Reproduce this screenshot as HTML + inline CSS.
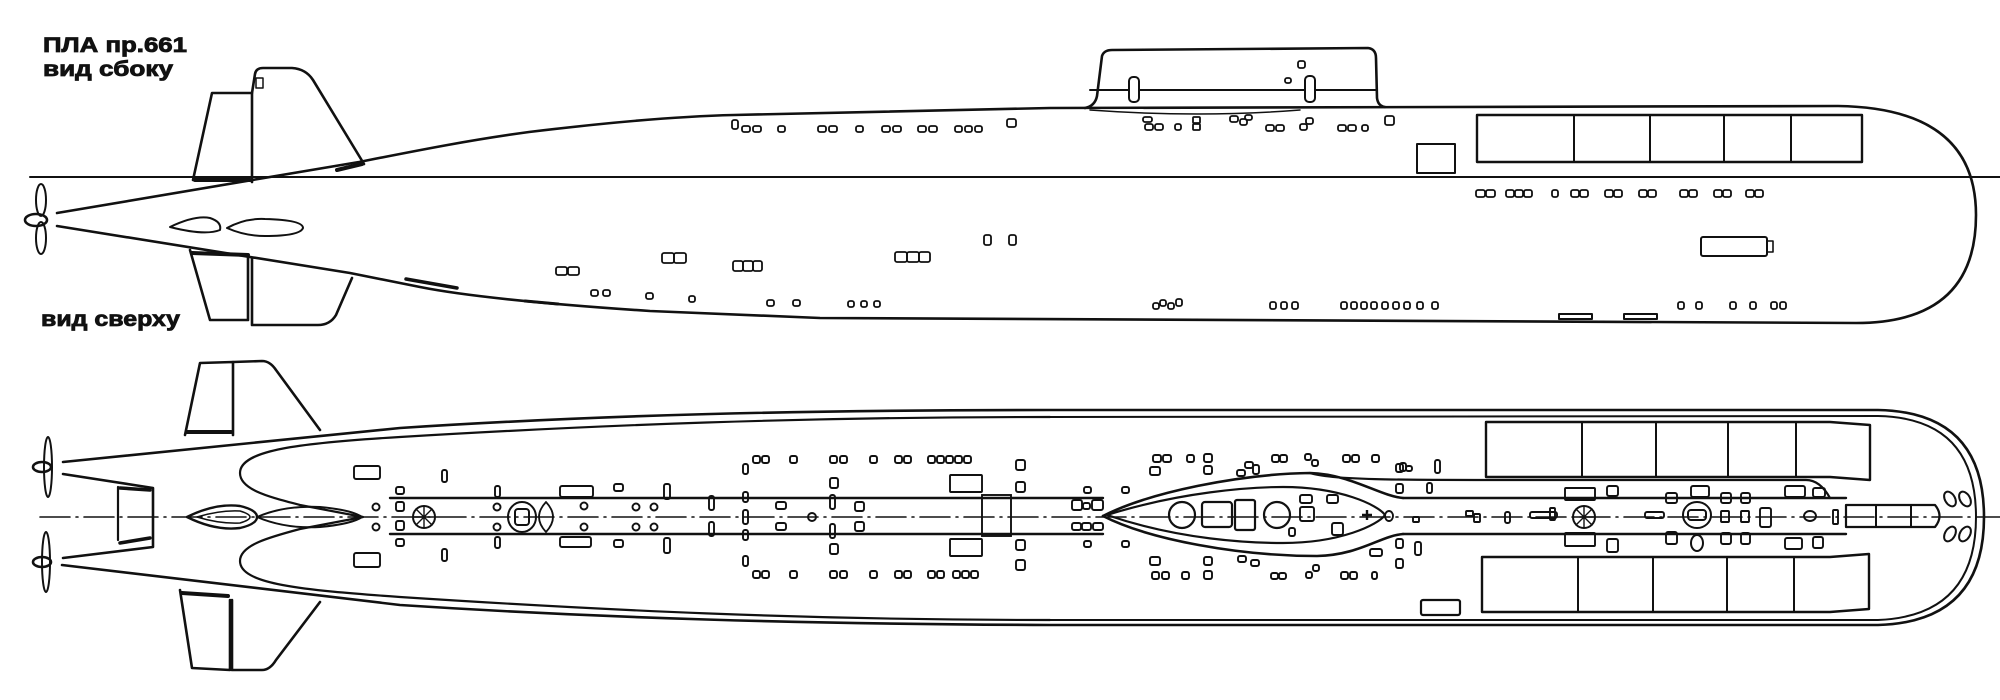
<!DOCTYPE html>
<html><head><meta charset="utf-8"><style>
html,body{margin:0;padding:0;background:#fff;}
svg{display:block;}
text{font-family:"Liberation Sans",sans-serif;font-weight:bold;fill:#111;stroke:#111;stroke-width:0.8;}
</style></head><body>
<svg width="2000" height="700" viewBox="0 0 2000 700" xmlns="http://www.w3.org/2000/svg">
<g fill="none" stroke="#111" stroke-width="2.6" stroke-linejoin="round" stroke-linecap="round">
<!-- ===== SIDE VIEW ===== -->
<line x1="30" y1="177" x2="2000" y2="177" stroke-width="2"/>
<path d="M57,213 L359,162 C420,150 470,140 529,132 C620,121 690,116 734,115 L1050,108 L1838,106 Q1976,108 1976,215 Q1976,323 1856,323 L820,318 L650,311 C560,305 470,297 420,287 C390,281 370,277 350,273 L57,226"/>
<!-- sail -->
<path d="M1085,108 Q1095,106 1097,96 L1102,56 Q1104,50 1112,50 L1368,48 Q1376,49 1376,58 L1377,98 Q1378,106 1385,107"/>
<line x1="1090" y1="90" x2="1377" y2="90" stroke-width="2"/>
<rect x="1129" y="77" width="10" height="25" rx="4" fill="#fff" stroke-width="2"/>
<rect x="1305" y="76" width="10" height="26" rx="4" fill="#fff" stroke-width="2"/>
<path d="M1090,110 Q1200,118 1300,110" stroke-width="1.5"/>
<!-- upper rudder -->
<path d="M193,180 L212,93 L252,93 L252,182"/>
<path d="M252,93 L255,74 Q256,68 263,68 L292,68 Q306,69 313,80 L364,164"/>
<line x1="195" y1="180" x2="250" y2="180" stroke-width="4"/>
<rect x="256" y="78" width="7" height="10" stroke-width="1.5"/>
<line x1="337" y1="170" x2="362" y2="164" stroke-width="4"/>
<!-- lower rudder -->
<path d="M190,250 L210,320 L248,320 L248,258"/>
<path d="M252,258 L252,325 L318,325 Q330,325 336,315 L352,278"/>
<line x1="192" y1="253" x2="248" y2="255" stroke-width="4"/>
<!-- propeller -->
<ellipse cx="36" cy="220" rx="11" ry="6"/>
<ellipse cx="41" cy="200" rx="5" ry="16" stroke-width="2"/>
<ellipse cx="41" cy="238" rx="5" ry="16" stroke-width="2"/>
<!-- ovals -->
<path d="M170,227 Q195,215 210,218 Q222,222 220,230 Q205,236 170,227 Z" stroke-width="2"/>
<path d="M227,228 Q245,218 265,219 Q303,220 303,228 Q300,236 265,236 Q245,236 227,228 Z" stroke-width="2"/>
<!-- side dashes -->
<line x1="406" y1="279" x2="457" y2="288" stroke-width="3.5"/>
<line x1="525" y1="301" x2="558" y2="304" stroke-width="3"/>
<!-- launchers side -->
<rect x="1477" y="115" width="385" height="47" stroke-width="2.4"/>
<line x1="1574" y1="115" x2="1574" y2="162" stroke-width="2"/>
<line x1="1650" y1="115" x2="1650" y2="162" stroke-width="2"/>
<line x1="1724" y1="115" x2="1724" y2="162" stroke-width="2"/>
<line x1="1791" y1="115" x2="1791" y2="162" stroke-width="2"/>
<rect x="1417" y="144" width="38" height="29" stroke-width="2"/>
<rect x="1701" y="237" width="66" height="19" rx="2" stroke-width="2"/>
<rect x="1767" y="241" width="6" height="11" stroke-width="1.6"/>
<rect x="1559" y="314" width="33" height="5" stroke-width="2"/>
<rect x="1624" y="314" width="33" height="5" stroke-width="2"/>
</g>

<!-- small portholes side view -->
<g fill="none" stroke="#111" stroke-width="1.8">
<rect x="732" y="120" width="6" height="9" rx="2"/>
<g>
<rect x="742" y="126" width="8" height="6" rx="2"/><rect x="753" y="126" width="8" height="6" rx="2"/>
<rect x="778" y="126" width="7" height="6" rx="2"/>
<rect x="818" y="126" width="8" height="6" rx="2"/><rect x="829" y="126" width="8" height="6" rx="2"/>
<rect x="856" y="126" width="7" height="6" rx="2"/>
<rect x="882" y="126" width="8" height="6" rx="2"/><rect x="893" y="126" width="8" height="6" rx="2"/>
<rect x="918" y="126" width="8" height="6" rx="2"/><rect x="929" y="126" width="8" height="6" rx="2"/>
<rect x="955" y="126" width="7" height="6" rx="2"/><rect x="965" y="126" width="7" height="6" rx="2"/><rect x="975" y="126" width="7" height="6" rx="2"/>
<rect x="1007" y="119" width="9" height="8" rx="2"/>
</g>
<g>
<rect x="1143" y="117" width="9" height="5" rx="2"/><rect x="1145" y="124" width="8" height="6" rx="2"/><rect x="1155" y="124" width="8" height="6" rx="2"/>
<rect x="1175" y="124" width="6" height="6" rx="2"/>
<rect x="1193" y="117" width="7" height="6" rx="1"/><rect x="1193" y="124" width="7" height="6" rx="1"/>
<rect x="1230" y="116" width="8" height="6" rx="2"/><rect x="1240" y="119" width="7" height="6" rx="2"/><rect x="1245" y="115" width="7" height="5" rx="2"/>
<rect x="1266" y="125" width="8" height="6" rx="2"/><rect x="1276" y="125" width="8" height="6" rx="2"/>
<rect x="1300" y="124" width="7" height="6" rx="2"/><rect x="1306" y="118" width="7" height="6" rx="2"/>
<rect x="1338" y="125" width="8" height="6" rx="2"/><rect x="1348" y="125" width="8" height="6" rx="2"/><rect x="1362" y="125" width="6" height="6" rx="2"/>
<rect x="1385" y="116" width="9" height="9" rx="2"/>
<rect x="1298" y="61" width="7" height="7" rx="2"/>
<rect x="1285" y="78" width="6" height="5" rx="2"/>
</g>
<g>
<rect x="1476" y="190" width="9" height="7" rx="2"/><rect x="1486" y="190" width="9" height="7" rx="2"/>
<rect x="1506" y="190" width="8" height="7" rx="2"/><rect x="1515" y="190" width="8" height="7" rx="2"/><rect x="1524" y="190" width="8" height="7" rx="2"/>
<rect x="1552" y="190" width="6" height="7" rx="2"/>
<rect x="1571" y="190" width="8" height="7" rx="2"/><rect x="1580" y="190" width="8" height="7" rx="2"/>
<rect x="1605" y="190" width="8" height="7" rx="2"/><rect x="1614" y="190" width="8" height="7" rx="2"/>
<rect x="1639" y="190" width="8" height="7" rx="2"/><rect x="1648" y="190" width="8" height="7" rx="2"/>
<rect x="1680" y="190" width="8" height="7" rx="2"/><rect x="1689" y="190" width="8" height="7" rx="2"/>
<rect x="1714" y="190" width="8" height="7" rx="2"/><rect x="1723" y="190" width="8" height="7" rx="2"/>
<rect x="1746" y="190" width="8" height="7" rx="2"/><rect x="1755" y="190" width="8" height="7" rx="2"/>
</g>
<g>
<rect x="556" y="267" width="11" height="8" rx="2"/><rect x="568" y="267" width="11" height="8" rx="2"/>
<rect x="662" y="253" width="12" height="10" rx="2"/><rect x="674" y="253" width="12" height="10" rx="2"/>
<rect x="733" y="261" width="10" height="10" rx="2"/><rect x="743" y="261" width="10" height="10" rx="2"/><rect x="753" y="261" width="9" height="10" rx="2"/>
<rect x="895" y="252" width="12" height="10" rx="2"/><rect x="907" y="252" width="12" height="10" rx="2"/><rect x="919" y="252" width="11" height="10" rx="2"/>
<rect x="984" y="235" width="7" height="10" rx="2"/><rect x="1009" y="235" width="7" height="10" rx="2"/>
<rect x="591" y="290" width="7" height="6" rx="2"/><rect x="603" y="290" width="7" height="6" rx="2"/>
<rect x="646" y="293" width="7" height="6" rx="2"/>
<rect x="689" y="296" width="6" height="6" rx="2"/>
<rect x="767" y="300" width="7" height="6" rx="2"/><rect x="793" y="300" width="7" height="6" rx="2"/>
<rect x="848" y="301" width="6" height="6" rx="2"/><rect x="861" y="301" width="6" height="6" rx="2"/><rect x="874" y="301" width="6" height="6" rx="2"/>
</g>
<g>
<rect x="1153" y="303" width="6" height="6" rx="2"/><rect x="1160" y="300" width="6" height="6" rx="2"/><rect x="1168" y="303" width="6" height="6" rx="2"/><rect x="1176" y="299" width="6" height="7" rx="2"/>
<rect x="1270" y="302" width="6" height="7" rx="2"/><rect x="1281" y="302" width="6" height="7" rx="2"/><rect x="1292" y="302" width="6" height="7" rx="2"/>
<rect x="1341" y="302" width="6" height="7" rx="2"/><rect x="1351" y="302" width="6" height="7" rx="2"/><rect x="1361" y="302" width="6" height="7" rx="2"/><rect x="1371" y="302" width="6" height="7" rx="2"/><rect x="1382" y="302" width="6" height="7" rx="2"/><rect x="1393" y="302" width="6" height="7" rx="2"/><rect x="1404" y="302" width="6" height="7" rx="2"/><rect x="1417" y="302" width="6" height="7" rx="2"/><rect x="1432" y="302" width="6" height="7" rx="2"/>
<rect x="1678" y="302" width="6" height="7" rx="2"/><rect x="1696" y="302" width="6" height="7" rx="2"/>
<rect x="1730" y="302" width="6" height="7" rx="2"/><rect x="1750" y="302" width="6" height="7" rx="2"/>
<rect x="1771" y="302" width="6" height="7" rx="2"/><rect x="1780" y="302" width="6" height="7" rx="2"/>
</g>
</g>

<!-- ===== TOP VIEW ===== -->
<g fill="none" stroke="#111" stroke-width="2.6" stroke-linejoin="round" stroke-linecap="round">
<line x1="40" y1="517" x2="2000" y2="517" stroke-width="1.6" stroke-dasharray="30 6 2 6"/>
<path d="M63,462 L400,428 C600,415 800,410 1050,410 L1878,410 Q1984,412 1984,517 Q1984,622 1878,625 L1050,625 C800,624 600,618 400,605 L62,565"/>
<path d="M1050,417 L1878,416 Q1976,418 1976,517 Q1976,616 1878,620 L1050,620" stroke-width="2"/>
<path d="M1050,417 C800,417 600,425 400,437 C300,443 240,450 240,473 C240,490 270,497 300,505 L363,517 L300,529 C270,537 240,545 240,561 C240,584 300,590 400,597 C600,610 800,620 1050,620" stroke-width="2.2"/>
<!-- stern V -->
<path d="M63,474 L153,488 L153,547 L63,558"/>
<line x1="118" y1="487" x2="118" y2="540" stroke-width="2.2"/>
<line x1="120" y1="488" x2="150" y2="490" stroke-width="3.5"/>
<line x1="120" y1="543" x2="150" y2="538" stroke-width="3.5"/>
<!-- props -->
<ellipse cx="42" cy="467" rx="9" ry="5"/>
<ellipse cx="48" cy="467" rx="4" ry="30" stroke-width="2"/>
<ellipse cx="42" cy="562" rx="9" ry="5"/>
<ellipse cx="46" cy="562" rx="4" ry="30" stroke-width="2"/>
<!-- fins -->
<path d="M185,435 L200,363 L233,362 L233,435"/>
<path d="M233,362 L262,361 Q270,361 276,370 L320,430"/>
<line x1="187" y1="432" x2="231" y2="432" stroke-width="4"/>
<path d="M180,590 L192,668 L230,670 L230,600"/>
<path d="M232,600 L232,670 L262,670 Q270,670 276,660 L320,602"/>
<line x1="182" y1="593" x2="228" y2="596" stroke-width="4"/>
<!-- centre teardrops -->
<path d="M187,517 Q215,503 240,506 Q257,510 257,517 Q257,524 240,528 Q215,531 187,517 Z" stroke-width="2.4"/>
<path d="M197,517 Q220,510 240,511 Q250,514 250,517 Q250,520 240,523 Q220,524 197,517 Z" stroke-width="1.6"/>
<path d="M257,517 Q285,505 320,507 Q352,510 362,517 Q352,524 320,527 Q285,529 257,517 Z" stroke-width="2"/>
<!-- strip lines -->
<line x1="390" y1="498" x2="1103" y2="498" stroke-width="2.4"/>
<line x1="390" y1="534" x2="1103" y2="534" stroke-width="2.4"/>
<line x1="1403" y1="498" x2="1846" y2="498" stroke-width="2.4"/>
<line x1="1403" y1="534" x2="1846" y2="534" stroke-width="2.4"/>
<!-- lens -->
<path d="M1103,516 C1150,492 1240,474 1310,473 C1350,474 1380,496 1403,498"/>
<path d="M1103,516 C1150,540 1240,556 1317,556 C1360,555 1380,536 1403,534"/>
<path d="M1310,473 C1330,480 1400,480 1500,480 L1806,480 Q1820,480 1830,498" stroke-width="2.2"/>
<path d="M1107,515 C1180,492 1250,487 1283,487 C1340,487 1378,505 1385,515 C1378,525 1340,543 1283,543 C1250,543 1180,540 1107,515 Z" stroke-width="2.2"/>
<circle cx="1182" cy="515" r="13" stroke-width="2.2"/>
<rect x="1202" y="502" width="30" height="25" rx="3" stroke-width="2.2"/>
<rect x="1235" y="500" width="20" height="30" rx="2" stroke-width="2.2"/>
<circle cx="1277" cy="515" r="13" stroke-width="2.2"/>
<!-- launchers top -->
<path d="M1486,422 L1830,422 L1870,425 L1870,480 L1830,477 L1486,477 Z" stroke-width="2.4"/>
<line x1="1582" y1="422" x2="1582" y2="477" stroke-width="2"/>
<line x1="1656" y1="422" x2="1656" y2="477" stroke-width="2"/>
<line x1="1728" y1="422" x2="1728" y2="477" stroke-width="2"/>
<line x1="1796" y1="422" x2="1796" y2="477" stroke-width="2"/>
<path d="M1482,557 L1830,557 L1869,554 L1869,609 L1830,612 L1482,612 Z" stroke-width="2.4"/>
<line x1="1578" y1="557" x2="1578" y2="612" stroke-width="2"/>
<line x1="1653" y1="557" x2="1653" y2="612" stroke-width="2"/>
<line x1="1727" y1="557" x2="1727" y2="612" stroke-width="2"/>
<line x1="1794" y1="557" x2="1794" y2="612" stroke-width="2"/>
<!-- bow tubes -->
<path d="M1846,505 L1935,505 Q1944,516 1935,527 L1846,527 Z" stroke-width="2.2"/>
<line x1="1876" y1="505" x2="1876" y2="527" stroke-width="2"/>
<line x1="1911" y1="505" x2="1911" y2="527" stroke-width="2"/>
<ellipse cx="1950" cy="499" rx="5" ry="8" transform="rotate(-30 1950 499)" stroke-width="2"/>
<ellipse cx="1965" cy="499" rx="5" ry="8" transform="rotate(-30 1965 499)" stroke-width="2"/>
<ellipse cx="1950" cy="534" rx="5" ry="8" transform="rotate(30 1950 534)" stroke-width="2"/>
<ellipse cx="1965" cy="534" rx="5" ry="8" transform="rotate(30 1965 534)" stroke-width="2"/>
<rect x="1421" y="600" width="39" height="15" rx="2" stroke-width="2.2"/>
<!-- wheels -->
<circle cx="424" cy="517" r="11" stroke-width="2"/>
<path d="M424,506 V528 M413,517 H435 M416,509 L432,525 M432,509 L416,525" stroke-width="1.4"/>
<circle cx="1584" cy="517" r="11" stroke-width="2"/>
<path d="M1584,506 V528 M1573,517 H1595 M1576,509 L1592,525 M1592,509 L1576,525" stroke-width="1.4"/>
<ellipse cx="522" cy="517" rx="14" ry="15" stroke-width="2"/>
<rect x="515" y="509" width="14" height="16" rx="3" stroke-width="2"/>
<path d="M546,502 Q560,517 546,532 Q532,517 546,502 Z" stroke-width="1.8"/>
<ellipse cx="1697" cy="515" rx="14" ry="13" stroke-width="2"/>
<rect x="1688" y="510" width="18" height="10" rx="3" stroke-width="2"/>
<ellipse cx="1697" cy="543" rx="6" ry="8" stroke-width="2"/>
</g>

<!-- top view small items -->
<g fill="none" stroke="#111" stroke-width="1.9">
<rect x="354" y="466" width="26" height="13" rx="2"/><rect x="354" y="553" width="26" height="14" rx="2"/>
<rect x="560" y="486" width="33" height="11" rx="2"/><rect x="560" y="537" width="31" height="10" rx="2"/>
<rect x="950" y="475" width="32" height="17" rx="1"/><rect x="950" y="539" width="32" height="17" rx="1"/>
<rect x="982" y="495" width="29" height="41"/>
<circle cx="376" cy="507" r="3.5"/><circle cx="376" cy="527" r="3.5"/>
<circle cx="497" cy="507" r="3.5"/><circle cx="497" cy="527" r="3.5"/>
<circle cx="584" cy="506" r="3.5"/><circle cx="584" cy="527" r="3.5"/>
<circle cx="636" cy="507" r="3.5"/><circle cx="654" cy="507" r="3.5"/><circle cx="636" cy="527" r="3.5"/><circle cx="654" cy="527" r="3.5"/>
<circle cx="812" cy="517" r="4"/>
<rect x="442" y="470" width="5" height="12" rx="2"/><rect x="442" y="549" width="5" height="12" rx="2"/>
<rect x="495" y="486" width="5" height="11" rx="2"/><rect x="495" y="537" width="5" height="11" rx="2"/>
<rect x="664" y="484" width="6" height="15" rx="2"/><rect x="664" y="538" width="6" height="15" rx="2"/>
<rect x="709" y="496" width="5" height="14" rx="2"/><rect x="709" y="522" width="5" height="14" rx="2"/>
<rect x="743" y="492" width="5" height="10" rx="2"/><rect x="743" y="510" width="5" height="14" rx="2"/><rect x="743" y="530" width="5" height="10" rx="2"/>
<rect x="830" y="495" width="5" height="14" rx="2"/><rect x="830" y="524" width="5" height="14" rx="2"/>
<rect x="396" y="487" width="8" height="7" rx="2"/><rect x="396" y="502" width="8" height="9" rx="2"/><rect x="396" y="521" width="8" height="9" rx="2"/><rect x="396" y="539" width="8" height="7" rx="2"/>
<rect x="776" y="502" width="10" height="7" rx="2"/><rect x="776" y="523" width="10" height="7" rx="2"/>
<rect x="855" y="502" width="9" height="9" rx="2"/><rect x="855" y="522" width="9" height="9" rx="2"/>
<rect x="614" y="484" width="9" height="7" rx="2"/><rect x="614" y="540" width="9" height="7" rx="2"/>
<rect x="743" y="464" width="5" height="10" rx="2"/><rect x="743" y="556" width="5" height="10" rx="2"/>
<rect x="830" y="478" width="8" height="10" rx="2"/><rect x="830" y="544" width="8" height="10" rx="2"/>
<rect x="1016" y="460" width="9" height="10" rx="2"/><rect x="1016" y="482" width="9" height="10" rx="2"/><rect x="1016" y="540" width="9" height="10" rx="2"/><rect x="1016" y="560" width="9" height="10" rx="2"/>
<!-- rows -->
<rect x="753" y="456" width="7" height="7" rx="2"/><rect x="762" y="456" width="7" height="7" rx="2"/><rect x="790" y="456" width="7" height="7" rx="2"/>
<rect x="830" y="456" width="7" height="7" rx="2"/><rect x="840" y="456" width="7" height="7" rx="2"/><rect x="870" y="456" width="7" height="7" rx="2"/>
<rect x="895" y="456" width="7" height="7" rx="2"/><rect x="904" y="456" width="7" height="7" rx="2"/>
<rect x="928" y="456" width="7" height="7" rx="2"/><rect x="937" y="456" width="7" height="7" rx="2"/><rect x="946" y="456" width="7" height="7" rx="2"/><rect x="955" y="456" width="7" height="7" rx="2"/><rect x="964" y="456" width="7" height="7" rx="2"/>
<rect x="753" y="571" width="7" height="7" rx="2"/><rect x="762" y="571" width="7" height="7" rx="2"/><rect x="790" y="571" width="7" height="7" rx="2"/>
<rect x="830" y="571" width="7" height="7" rx="2"/><rect x="840" y="571" width="7" height="7" rx="2"/><rect x="870" y="571" width="7" height="7" rx="2"/>
<rect x="895" y="571" width="7" height="7" rx="2"/><rect x="904" y="571" width="7" height="7" rx="2"/>
<rect x="928" y="571" width="7" height="7" rx="2"/><rect x="937" y="571" width="7" height="7" rx="2"/>
<rect x="953" y="571" width="7" height="7" rx="2"/><rect x="962" y="571" width="7" height="7" rx="2"/><rect x="971" y="571" width="7" height="7" rx="2"/>
<!-- mid section -->
<rect x="1153" y="455" width="8" height="7" rx="2"/><rect x="1163" y="455" width="8" height="7" rx="2"/><rect x="1187" y="455" width="7" height="7" rx="2"/><rect x="1204" y="454" width="8" height="8" rx="2"/>
<rect x="1150" y="467" width="10" height="8" rx="2"/><rect x="1204" y="466" width="8" height="8" rx="2"/>
<rect x="1237" y="470" width="8" height="6" rx="2"/><rect x="1245" y="462" width="8" height="6" rx="2"/><rect x="1253" y="465" width="6" height="9" rx="2"/>
<rect x="1272" y="455" width="7" height="7" rx="2"/><rect x="1280" y="455" width="7" height="7" rx="2"/>
<rect x="1305" y="454" width="6" height="6" rx="2"/><rect x="1312" y="460" width="6" height="6" rx="2"/>
<rect x="1343" y="455" width="7" height="7" rx="2"/><rect x="1352" y="455" width="7" height="7" rx="2"/><rect x="1372" y="455" width="7" height="7" rx="2"/>
<rect x="1152" y="572" width="7" height="7" rx="2"/><rect x="1162" y="572" width="7" height="7" rx="2"/><rect x="1182" y="572" width="7" height="7" rx="2"/><rect x="1204" y="571" width="8" height="8" rx="2"/>
<rect x="1150" y="557" width="10" height="8" rx="2"/><rect x="1204" y="557" width="8" height="8" rx="2"/>
<rect x="1238" y="556" width="8" height="6" rx="2"/><rect x="1251" y="560" width="8" height="6" rx="2"/>
<rect x="1271" y="573" width="7" height="6" rx="2"/><rect x="1279" y="573" width="7" height="6" rx="2"/>
<rect x="1306" y="572" width="6" height="6" rx="2"/><rect x="1313" y="565" width="6" height="6" rx="2"/>
<rect x="1341" y="572" width="7" height="7" rx="2"/><rect x="1350" y="572" width="7" height="7" rx="2"/><rect x="1372" y="572" width="5" height="7" rx="2"/>
<rect x="1072" y="500" width="10" height="10" rx="2"/><rect x="1083" y="503" width="7" height="6" rx="2"/><rect x="1092" y="500" width="11" height="10" rx="2"/>
<rect x="1072" y="523" width="9" height="7" rx="2"/><rect x="1082" y="523" width="9" height="7" rx="2"/><rect x="1093" y="523" width="10" height="7" rx="2"/>
<rect x="1084" y="487" width="7" height="6" rx="2"/><rect x="1084" y="541" width="7" height="6" rx="2"/>
<rect x="1122" y="487" width="7" height="6" rx="2"/><rect x="1122" y="541" width="7" height="6" rx="2"/>
<rect x="1300" y="495" width="12" height="8" rx="2"/><rect x="1327" y="495" width="11" height="8" rx="2"/>
<rect x="1300" y="507" width="14" height="14" rx="2"/><rect x="1332" y="523" width="11" height="12" rx="2"/><rect x="1289" y="528" width="6" height="8" rx="2"/>
<path d="M1362,515 H1372 M1367,510 V520" stroke-width="2.4"/>
<ellipse cx="1389" cy="516" rx="4" ry="5"/>
<rect x="1396" y="464" width="7" height="8" rx="2"/><rect x="1396" y="484" width="7" height="9" rx="2"/><rect x="1396" y="539" width="7" height="9" rx="2"/><rect x="1396" y="559" width="7" height="9" rx="2"/>
<rect x="1370" y="549" width="12" height="7" rx="2"/><rect x="1415" y="542" width="6" height="13" rx="2"/>
<rect x="1435" y="460" width="5" height="13" rx="2"/><rect x="1427" y="483" width="5" height="10" rx="2"/>
<rect x="1400" y="463" width="6" height="8" rx="2"/><rect x="1406" y="466" width="6" height="5" rx="2"/>
<rect x="1413" y="517" width="6" height="5" rx="1"/><rect x="1466" y="511" width="7" height="5" rx="1"/><rect x="1474" y="514" width="6" height="8" rx="1"/>
<!-- bow area -->
<rect x="1565" y="488" width="30" height="12" rx="1"/><rect x="1565" y="533" width="30" height="13" rx="1"/>
<rect x="1607" y="486" width="11" height="10" rx="2"/><rect x="1607" y="539" width="11" height="13" rx="2"/>
<rect x="1666" y="493" width="11" height="10" rx="2"/><rect x="1666" y="532" width="11" height="12" rx="2"/>
<rect x="1691" y="486" width="18" height="11" rx="2"/>
<rect x="1721" y="493" width="10" height="10" rx="2"/><rect x="1721" y="533" width="10" height="11" rx="2"/>
<rect x="1741" y="493" width="9" height="10" rx="2"/><rect x="1741" y="533" width="9" height="11" rx="2"/>
<rect x="1785" y="486" width="20" height="11" rx="2"/><rect x="1785" y="538" width="17" height="11" rx="2"/>
<rect x="1813" y="488" width="12" height="9" rx="2"/><rect x="1813" y="537" width="10" height="11" rx="2"/>
<rect x="1645" y="512" width="19" height="6" rx="2"/><rect x="1760" y="508" width="11" height="19" rx="2"/>
<rect x="1721" y="511" width="8" height="11" rx="1"/><rect x="1741" y="511" width="8" height="11" rx="1"/>
<ellipse cx="1810" cy="516" rx="6" ry="5"/>
<rect x="1833" y="510" width="5" height="14" rx="1"/>
<rect x="1505" y="512" width="5" height="11" rx="2"/><rect x="1530" y="512" width="27" height="6" rx="2"/>
<rect x="1550" y="508" width="5" height="12" rx="1"/>
</g>

<!-- labels -->
<text x="43" y="52" font-size="21" textLength="144" lengthAdjust="spacingAndGlyphs">ПЛА пр.661</text>
<text x="43" y="76" font-size="21" textLength="130" lengthAdjust="spacingAndGlyphs">вид  сбоку</text>
<text x="41" y="326" font-size="21" textLength="139" lengthAdjust="spacingAndGlyphs">вид  сверху</text>
</svg>
</body></html>
